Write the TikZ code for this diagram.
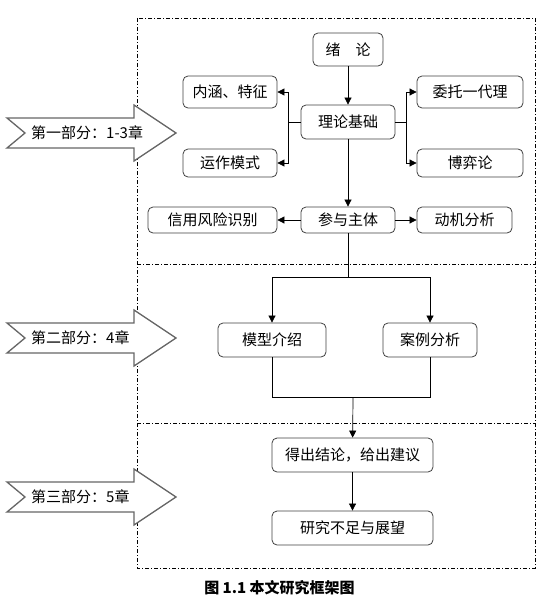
\documentclass[tikz,border=0pt]{standalone}
\usepackage{fontspec}
\setmainfont{Noto Sans CJK SC}
\usetikzlibrary{arrows.meta}
\tikzset{
  box/.style={draw=black!75,line width=.8pt,rounded corners=5pt,fill=white,
    inner sep=0pt,font=\fontsize{15}{18}\selectfont},
  link/.style={line width=.7pt},
  arr/.style={link,-{Triangle[length=7pt,width=7pt]}},
  part/.style={draw=black!60,line width=1.3pt,fill=white,line join=miter},
  frame/.style={line width=.6pt,dash pattern=on 4pt off 2pt on 1pt off 2pt}
}

\begin{document}
\begin{tikzpicture}[x=1pt,y=-1pt]
  \useasboundingbox (0,0) rectangle (543,602);
  \draw[frame] (137,18) rectangle (535,568);
  \draw[frame] (137,264) -- (535,264);
  \draw[frame] (137,423) -- (535,423);
  \foreach \c/\n/\t in {133/partone/第一部分：1-3章,338/parttwo/第二部分：4章,497/partthree/第三部分：5章}{
    \draw[part] (7,\c-15) -- (134,\c-15) -- (134,\c-28) -- (176,\c)
      -- (134,\c+28) -- (134,\c+15) -- (7,\c+15) -- (25,\c) -- cycle;
    \node[anchor=west,inner sep=0pt,font=\fontsize{15}{18}\selectfont] (\n) at (31,\c) {\t};
  }
  \node[box,minimum width=70,minimum height=33] (xulun) at (348,49.5) {绪\hspace{1em}论};
  \node[box,minimum width=94,minimum height=34] (lilun) at (348,122) {理论基础};
  \node[box,minimum width=94,minimum height=32] (neihan) at (230,92) {内涵、特征};
  \node[box,minimum width=94,minimum height=28] (yunzuo) at (230,163) {运作模式};
  \node[box,minimum width=106,minimum height=32] (weituo) at (470,92) {委托一代理};
  \node[box,minimum width=106,minimum height=28] (boyi) at (470,163) {博弈论};
  \node[box,minimum width=94,minimum height=26] (canyu) at (348,220) {参与主体};
  \node[box,minimum width=129,minimum height=26] (xinyong) at (212.5,220) {信用风险识别};
  \node[box,minimum width=95,minimum height=26] (dongji) at (464.5,220) {动机分析};
  \node[box,minimum width=108,minimum height=34] (moxing) at (272,340) {模型介绍};
  \node[box,minimum width=94,minimum height=34] (anli) at (430,340) {案例分析};
  \node[box,minimum width=161,minimum height=34] (jielun) at (352.5,455) {得出结论，给出建议};
  \node[box,minimum width=161,minimum height=34] (yanjiu) at (352.5,528) {研究不足与展望};
  \node[font=\bfseries\fontsize{15}{18}\selectfont] (caption) at (279.5,588) {图 1.1 本文研究框架图};
  \coordinate (jl) at (288,122);
  \coordinate (jr) at (406,122);
  \coordinate (split) at (348,277);
  \coordinate (merge) at (353,397);
  \draw[arr] (xulun) -- (lilun);
  \draw[link] (lilun.west) -- (jl);
  \draw[arr] (jl) |- (neihan);
  \draw[arr] (jl) |- (yunzuo);
  \draw[link] (lilun.east) -- (jr);
  \draw[arr] (jr) |- (weituo);
  \draw[arr] (jr) |- (boyi);
  \draw[arr] (lilun) -- (canyu);
  \draw[arr] (canyu) -- (xinyong);
  \draw[arr] (canyu) -- (dongji);
  \draw[link] (canyu) -- (split);
  \draw[arr] (split) -| (moxing);
  \draw[arr] (split) -| (anli);
  \draw[link] (moxing) |- (merge);
  \draw[link] (anli) |- (merge);
  \draw[arr] (merge) -- (jielun);
  \draw[arr] (jielun) -- (yanjiu);
\end{tikzpicture}
\end{document}
